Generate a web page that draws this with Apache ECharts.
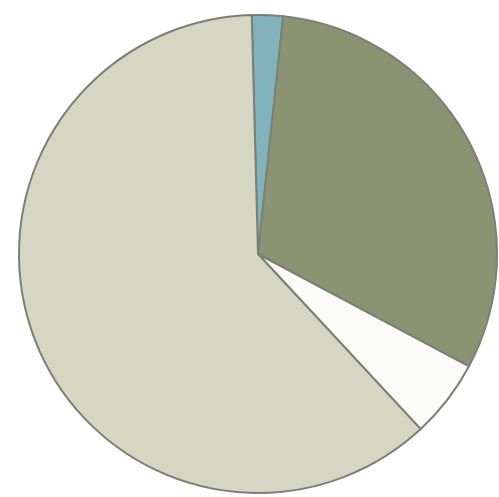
<!DOCTYPE html>
<html>
<head>
<meta charset="utf-8">
<script src="https://cdn.jsdelivr.net/npm/echarts@6/dist/echarts.min.js"></script>
<style>
  html, body { margin: 0; padding: 0; background: #ffffff; }
  #chart { width: 499px; height: 497px; }
</style>
</head>
<body>
<div id="chart"></div>
<script>
// slices clockwise from 12 o'clock
const sliceNames = ['A', 'B', 'C', 'D']
const sliceValues = [2.1, 31.1, 5.3, 61.5]
const sliceColors = ['#82b3bd', '#8b9472', '#fbfcf8', '#d5d7c3']

const chart = echarts.init(document.getElementById('chart'))

chart.setOption({
  backgroundColor: '#ffffff',
  animation: false,
  series: [
    {
      type: 'pie',
      center: [258, 254],
      radius: 239,
      startAngle: 91.5,
      clockwise: true,
      label: { show: false },
      labelLine: { show: false },
      itemStyle: {
        borderColor: '#7c8074',
        borderWidth: 2
      },
      data: sliceNames.map((name, i) => ({
        name: name,
        value: sliceValues[i],
        itemStyle: { color: sliceColors[i] }
      }))
    }
  ]
})
</script>
</body>
</html>
